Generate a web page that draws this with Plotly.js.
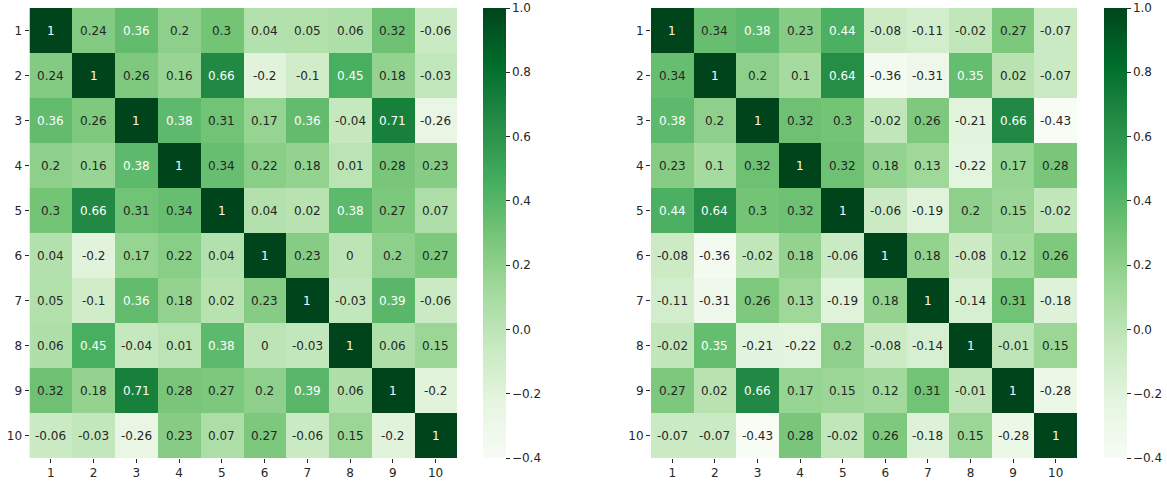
<!DOCTYPE html>
<html><head><meta charset="utf-8">
<script src="https://cdn.plot.ly/plotly-3.0.1.min.js"></script>
<style>html,body{margin:0;padding:0;background:#fff}#c{width:1167px;height:482px}</style>
</head><body><div id="c"></div>
<script>
const labels = [1,2,3,4,5,6,7,8,9,10];
const leftMatrix = [
 [1,0.24,0.36,0.2,0.3,0.04,0.05,0.06,0.32,-0.06],
 [0.24,1,0.26,0.16,0.66,-0.2,-0.1,0.45,0.18,-0.03],
 [0.36,0.26,1,0.38,0.31,0.17,0.36,-0.04,0.71,-0.26],
 [0.2,0.16,0.38,1,0.34,0.22,0.18,0.01,0.28,0.23],
 [0.3,0.66,0.31,0.34,1,0.04,0.02,0.38,0.27,0.07],
 [0.04,-0.2,0.17,0.22,0.04,1,0.23,0,0.2,0.27],
 [0.05,-0.1,0.36,0.18,0.02,0.23,1,-0.03,0.39,-0.06],
 [0.06,0.45,-0.04,0.01,0.38,0,-0.03,1,0.06,0.15],
 [0.32,0.18,0.71,0.28,0.27,0.2,0.39,0.06,1,-0.2],
 [-0.06,-0.03,-0.26,0.23,0.07,0.27,-0.06,0.15,-0.2,1]
];
const rightMatrix = [
 [1,0.34,0.38,0.23,0.44,-0.08,-0.11,-0.02,0.27,-0.07],
 [0.34,1,0.2,0.1,0.64,-0.36,-0.31,0.35,0.02,-0.07],
 [0.38,0.2,1,0.32,0.3,-0.02,0.26,-0.21,0.66,-0.43],
 [0.23,0.1,0.32,1,0.32,0.18,0.13,-0.22,0.17,0.28],
 [0.44,0.64,0.3,0.32,1,-0.06,-0.19,0.2,0.15,-0.02],
 [-0.08,-0.36,-0.02,0.18,-0.06,1,0.18,-0.08,0.12,0.26],
 [-0.11,-0.31,0.26,0.13,-0.19,0.18,1,-0.14,0.31,-0.18],
 [-0.02,0.35,-0.21,-0.22,0.2,-0.08,-0.14,1,-0.01,0.15],
 [0.27,0.02,0.66,0.17,0.15,0.12,0.31,-0.01,1,-0.28],
 [-0.07,-0.07,-0.43,0.28,-0.02,0.26,-0.18,0.15,-0.28,1]
];
const zmin = -0.4, zmax = 1;
const greens = ['#f7fcf5','#e5f5e0','#c7e9c0','#a1d99b','#74c476','#41ab5d','#238b45','#006d2c','#00441b'];
const colorscale = greens.map((c,i)=>[i/(greens.length-1), c]);

function hex(c){return [1,3,5].map(i=>parseInt(c.substr(i,2),16));}
function colorAt(v){
  let t=(v-zmin)/(zmax-zmin); t=Math.max(0,Math.min(1,t));
  const p=t*(greens.length-1); const i=Math.min(Math.floor(p),greens.length-2); const f=p-i;
  const a=hex(greens[i]), b=hex(greens[i+1]);
  return a.map((x,k)=>x+(b[k]-x)*f);
}
function lum(rgb){
  const l=rgb.map(x=>{x/=255;return x<=0.03928?x/12.92:Math.pow((x+0.055)/1.055,2.4);});
  return 0.2126*l[0]+0.7152*l[1]+0.0722*l[2];
}
function fmt(v){return String(Math.round(v*100)/100);}

const W=1167,H=482;
const panels=[
 {m:leftMatrix, x0:29.5, x1:457, cb:483, xa:'x', ya:'y'},
 {m:rightMatrix, x0:651, x1:1077, cb:1104, xa:'x2', ya:'y2'}
];
const yTop=8, yBot=458;
const traces=[], annotations=[];
const layout={width:W,height:H,margin:{l:0,r:0,t:0,b:0},paper_bgcolor:'#fff',plot_bgcolor:'#fff',
  font:{family:'DejaVu Sans, sans-serif',size:12,color:'#262626'},showlegend:false};
panels.forEach((p,pi)=>{
  traces.push({type:'heatmap',z:p.m,x:labels,y:labels,xaxis:p.xa,yaxis:p.ya,zmin:zmin,zmax:zmax,
    colorscale:colorscale,hoverinfo:'skip',
    colorbar:{x:p.cb/W,xanchor:'left',xref:'paper',y:(H-yBot)/H,yanchor:'bottom',len:(yBot-yTop),lenmode:'pixels',
      thickness:23,thicknessmode:'pixels',outlinewidth:0,tickmode:'array',tickvals:[-0.4,-0.2,0,0.2,0.4,0.6,0.8,1.0],
      tickformat:'.1f',ticks:'outside',ticklen:4,tickwidth:1,tickcolor:'#262626',xpad:0,ypad:0,
      tickfont:{family:'DejaVu Sans, sans-serif',size:12,color:'#262626'}}});
  const ax=p.xa==='x'?'xaxis':'xaxis2', ay=p.ya==='y'?'yaxis':'yaxis2';
  layout[ax]={domain:[p.x0/W,p.x1/W],range:[0.5,10.5],tickmode:'array',tickvals:labels,ticktext:labels.map(String),
    ticks:'outside',ticklen:4,tickcolor:'#262626',showgrid:false,zeroline:false,showline:false,anchor:p.ya,
    tickfont:{size:12,color:'#262626'}};
  layout[ay]={domain:[(H-yBot)/H,(H-yTop)/H],range:[10.5,0.5],tickmode:'array',tickvals:labels,ticktext:labels.map(String),
    ticks:'outside',ticklen:4,tickcolor:'#262626',showgrid:false,zeroline:false,showline:false,anchor:p.xa,
    tickfont:{size:12,color:'#262626'}};
  p.m.forEach((row,r)=>row.forEach((v,c)=>{
    const L=lum(colorAt(v));
    annotations.push({x:labels[c],y:labels[r],xref:p.xa,yref:p.ya,text:fmt(v),showarrow:false,
      font:{size:12,color:L>0.408?'#262626':'#ffffff'}});
  }));
});
layout.annotations=annotations;
Plotly.newPlot('c',traces,layout,{displayModeBar:false,staticPlot:true});
</script></body></html>
